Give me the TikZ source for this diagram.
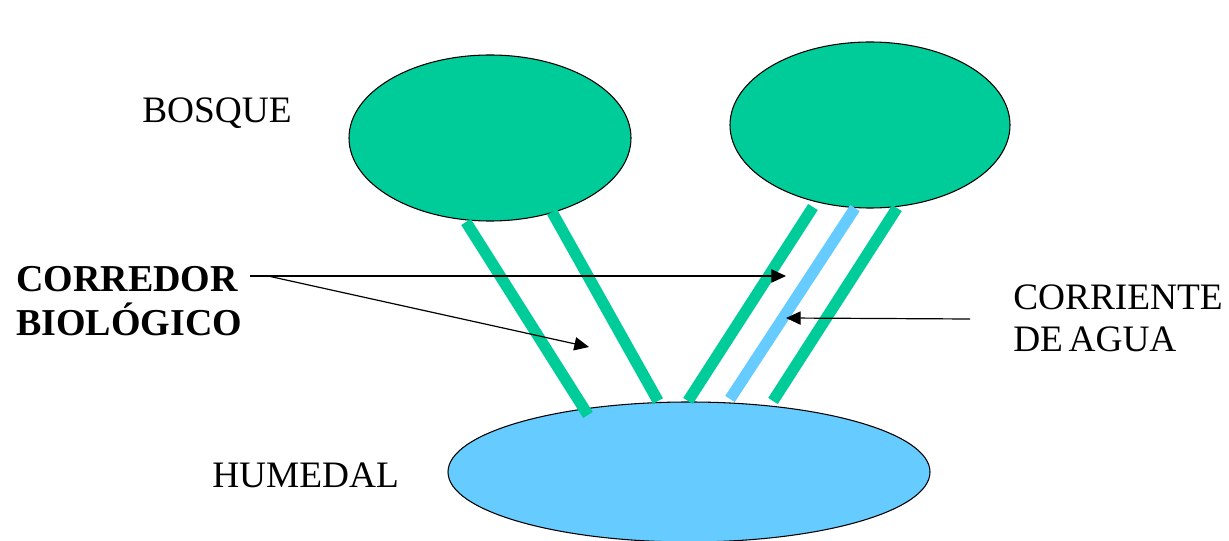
\documentclass[tikz,border=0pt]{standalone}
\usepackage{fontspec}
\setmainfont{Liberation Serif}
\usetikzlibrary{shapes.geometric,arrows.meta}
\definecolor{bosque}{RGB}{0,204,153}
\definecolor{agua}{RGB}{102,204,255}
\begin{document}
\begin{tikzpicture}[x=0.75pt,y=-0.75pt,
  blob/.style={draw=black,line width=0.8pt,ellipse,inner sep=0pt},
  band/.style={line width=8.5pt},
  lbl/.style={anchor=base west,inner sep=0pt,font=\fontsize{28pt}{33pt}\selectfont},
  ptr/.style={draw=black,line width=0.9pt,-{Triangle[length=11pt,width=10pt]}}]
\useasboundingbox (0,0) rectangle (1229,541);
\node[blob,fill=bosque,minimum width=211.5pt,minimum height=124.5pt] (b1) at (490,138) {};
\node[blob,fill=bosque,minimum width=210pt,minimum height=124.5pt] (b2) at (870,125) {};
\node[blob,fill=agua,minimum width=361.5pt,minimum height=105pt] (hum) at (689,472) {};
% corridor bands
\coordinate (l1a) at (466,222); \coordinate (l1b) at (588,415);
\coordinate (l2a) at (552,212); \coordinate (l2b) at (658,401);
\coordinate (r1a) at (813,207); \coordinate (r1b) at (688,401);
\coordinate (wa) at (855,208);  \coordinate (wb) at (730,399);
\coordinate (r2a) at (897,208); \coordinate (r2b) at (773,401);
\draw[band,bosque] (l1a) -- (l1b);
\draw[band,bosque] (l2a) -- (l2b);
\draw[band,bosque] (r1a) -- (r1b);
\draw[band,agua] (wa) -- (wb);
\draw[band,bosque] (r2a) -- (r2b);
% labels
\node[lbl] (tb) at (142,123) {BOSQUE};
\node[lbl,font=\fontsize{28.5pt}{33pt}\selectfont\bfseries] (tc1) at (16,292) {CORREDOR};
\node[lbl,font=\fontsize{28.5pt}{33pt}\selectfont\bfseries] (tc2) at (16,336) {BIOLÓGICO};
\node[lbl] (tr1) at (1013,310) {CORRIENTE};
\node[lbl] (tr2) at (1013,352) {DE\kern-0.1em\ AGUA};
\node[lbl] (th) at (212,488) {HUMEDAL};
% pointers
\coordinate (src) at (268,276);
\coordinate (t1) at (786,276);
\coordinate (t2) at (589,347);
\coordinate (wsrc) at (970,319);
\coordinate (wt) at (786,318);
\draw[line width=0.9pt] (250,276) -- (src);
\draw[ptr] (src) -- (t1);
\draw[ptr] (src) -- (t2);
\draw[ptr] (wsrc) -- (wt);
\end{tikzpicture}
\end{document}
